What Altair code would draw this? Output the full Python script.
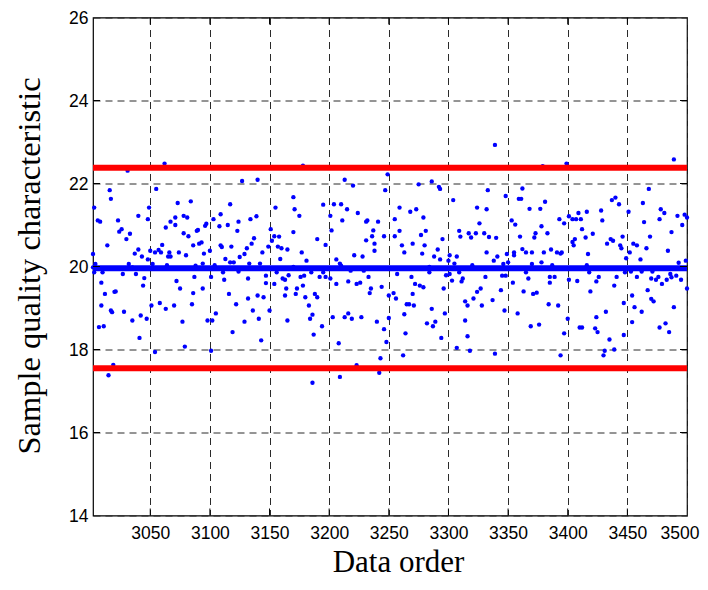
import altair as alt
import pandas as pd

# ---- data (data order, sample value) ----
x1 = [3002,3002,3003,3003,3004,3006,3007,3008,3009,3009,
      3010,3011,3012,3014,3015,3016,3017,3017,3018,3019,
      3020,3021,3023,3024,3026,3027,3028,3030,3031,3032,
      3033,3035,3035,3037,3038,3040,3040,3041,3042,3043,
      3044,3045,3047,3048,3048,3049,3050,3051,3052,3054,
      3054,3055,3057,3058,3059,3060,3062,3063,3063,3064,
      3065,3066,3067,3067,3070,3071,3071,3072,3073,3074,
      3075,3077,3078,3078,3079,3080,3081,3082]
y1 = [20.30,19.98,21.42,19.86,20.06,21.11,18.54,21.08,19.61,19.06,
      19.86,18.56,19.34,20.51,17.38,21.84,21.63,18.94,18.90,17.63,
      19.39,19.40,21.11,20.84,20.90,19.82,18.91,20.66,22.31,20.06,
      20.79,19.98,18.70,20.31,19.82,21.22,20.41,18.28,18.82,20.24,
      19.54,19.72,18.74,21.14,20.17,21.42,20.38,19.06,20.06,17.94,
      20.34,21.87,20.40,19.12,20.34,20.52,22.48,18.98,20.94,20.03,
      20.24,20.34,21.08,20.24,19.06,21.18,21.00,19.65,21.53,20.34,
      19.47,18.67,21.22,20.80,18.07,20.27,21.18,20.73]

x2 = [3084,3085,3086,3086,3087,3088,3089,3090,3091,3093,
      3094,3094,3095,3096,3097,3098,3100,3101,3101,3102,
      3103,3104,3105,3108,3109,3109,3110,3111,3112,3113,
      3115,3116,3117,3117,3118,3119,3120,3122,3123,3124,
      3124,3125,3127,3129,3129,3131,3132,3132,3133,3134,
      3135,3136,3137,3139,3140,3140,3141,3142,3143,3144,
      3145,3147,3147,3149,3150,3151,3152,3154,3154,3155,
      3156,3157,3158,3159,3160,3161,3163,3163,3164,3165,
      3165,3166]
y2 = [21.57,19.09,20.51,19.36,19.75,20.02,20.86,20.88,20.55,20.58,
      20.07,19.47,20.31,20.98,21.03,18.70,20.38,19.75,17.97,18.70,
      21.14,20.03,18.87,20.97,21.26,20.51,20.47,19.86,19.68,20.18,
      21.00,19.34,20.10,21.50,20.48,18.42,20.10,19.09,20.86,21.08,
      19.88,20.23,22.06,20.30,18.67,20.44,19.71,19.23,20.07,21.14,
      20.55,18.94,20.68,21.21,22.09,19.30,18.74,20.07,18.22,20.34,
      19.26,19.78,19.60,20.48,18.94,20.90,20.62,19.58,20.73,21.42,
      19.86,20.48,20.72,20.18,20.44,19.71,19.30,19.68,19.47,18.70,
      20.41,19.79]

x3 = [3170,3170,3170,3171,3172,3173,3175,3176,3177,3178,
      3178,3179,3180,3181,3183,3184,3185,3186,3186,3187,
      3188,3190,3190,3192,3194,3195,3195,3197,3197,3201,
      3201,3202,3203,3204,3206,3206,3208,3209,3209,3210,
      3210,3211,3213,3213,3215,3216,3216,3218,3219,3220,
      3221,3223,3223,3224,3226,3227,3228,3229,3231,3231,
      3232,3233,3234,3235,3236,3237,3238,3238,3240,3241,
      3242,3243,3244,3246,3246,3247,3248,3249,3250,3250]
y3 = [21.67,20.83,19.99,21.38,19.34,19.47,21.22,19.75,20.34,22.43,
      19.54,19.78,19.26,20.14,19.06,18.74,19.86,18.84,17.20,18.36,
      19.34,19.26,20.66,19.75,18.56,21.49,19.86,19.75,20.52,21.22,
      19.71,20.87,18.78,21.50,19.58,20.17,18.15,20.07,17.34,20.02,
      21.50,21.11,18.78,22.09,21.38,19.64,18.87,19.90,18.74,21.95,
      20.27,19.58,17.62,21.29,19.61,18.78,20.24,19.90,21.08,20.63,
      21.11,19.75,19.36,19.47,20.73,20.87,20.55,20.38,18.67,21.08,
      17.44,17.79,19.51,20.73,18.49,21.84,18.18,22.22,18.76,19.30]

x4 = [3254,3255,3255,3256,3257,3259,3259,3261,3262,3263,
      3263,3264,3265,3267,3268,3269,3270,3270,3271,3272,
      3273,3275,3276,3277,3278,3279,3279,3280,3281,3282,
      3284,3284,3286,3286,3287,3288,3289,3291,3292,3293,
      3293,3294,3295,3296,3297,3298,3300,3301,3301,3303,
      3304,3305,3307,3307,3309,3309,3310,3311,3312,3314,
      3314,3316,3316,3317,3318,3319,3320,3321,3323,3324,
      3324,3326,3327,3328,3330,3331,3332,3332,3333,3334]
y4 = [19.36,21.14,20.73,19.23,19.82,20.86,21.42,20.51,17.86,20.34,
      18.85,18.39,19.09,19.09,21.32,19.75,20.55,19.34,19.06,19.58,
      21.38,21.98,19.54,20.76,20.31,19.50,21.18,20.51,20.86,18.63,
      19.86,19.99,22.05,18.98,18.56,20.24,18.67,20.41,21.92,20.17,
      21.87,18.28,20.66,19.47,18.87,19.79,20.14,20.27,19.82,19.66,
      21.60,20.07,18.04,20.24,20.86,19.86,20.72,19.64,19.71,18.70,
      19.16,19.06,18.32,20.80,17.97,20.70,20.03,19.23,20.80,21.42,
      19.39,21.04,19.47,19.06,20.80,19.75,21.38,20.34,21.84,20.71]

x5 = [3337,3338,3339,3339,3340,3341,3344,3345,3346,3347,
      3348,3348,3349,3350,3353,3354,3355,3355,3356,3358,
      3359,3360,3361,3362,3362,3363,3365,3365,3367,3368,
      3369,3370,3370,3371,3372,3373,3374,3376,3377,3378,
      3378,3379,3380,3381,3383,3384,3385,3385,3386,3387,
      3389,3391,3392,3393,3394,3394,3395,3397,3397,3399,
      3400,3401,3401,3404,3404,3405,3406,3407,3408,3409,
      3410,3411,3412,3412,3415,3416,3416,3417,3418,3419]
y5 = [19.19,20.14,22.93,17.90,20.69,20.24,19.43,19.78,20.06,18.94,
      19.78,21.70,20.30,20.10,21.11,19.61,20.34,20.27,21.01,18.87,
      21.63,20.72,21.63,21.88,20.42,19.40,20.34,19.86,19.71,21.39,
      18.56,20.34,20.06,19.34,20.70,20.80,19.37,18.60,21.39,20.97,
      20.10,22.42,20.34,21.56,20.80,19.09,19.75,19.61,20.41,20.03,
      19.75,20.34,19.06,21.14,20.31,17.86,20.34,18.39,21.04,22.48,
      18.74,19.68,21.21,21.14,20.59,20.51,20.66,21.14,19.65,21.29,
      18.53,21.14,20.90,18.53,20.70,21.32,20.03,20.30,19.86,19.40]

x6 = [3421,3423,3424,3424,3425,3426,3428,3429,3430,3431,
      3432,3433,3435,3436,3437,3438,3439,3439,3440,3441,
      3443,3444,3445,3446,3447,3447,3448,3449,3451,3452,
      3453,3454,3454,3455,3456,3458,3458,3461,3462,3462,
      3463,3464,3466,3467,3468,3469,3470,3470,3471,3472,
      3474,3476,3477,3477,3478,3479,3481,3482,3483,3484,
      3485,3486,3487,3487,3489,3489,3491,3492,3493,3495,
      3496,3498,3499,3500,3500]
y6 = [20.79,18.51,19.64,18.78,18.42,19.75,21.35,21.11,17.86,17.97,
      18.91,20.55,18.24,20.66,21.60,20.62,19.54,18.00,21.66,19.75,
      21.50,20.51,20.44,20.72,18.35,19.12,19.86,20.20,21.32,20.34,
      19.88,19.30,18.66,20.55,19.02,19.75,20.51,20.17,19.88,18.91,
      21.53,21.07,20.44,19.43,21.87,20.72,19.71,19.22,19.88,19.16,
      19.68,19.75,21.14,18.53,21.38,19.58,21.29,18.63,19.68,20.38,
      18.42,19.82,19.74,20.83,19.02,22.58,19.78,21.22,20.09,19.68,
      21.00,21.25,20.14,19.47,21.18]

limit_names = ["UCL", "CL", "LCL"]
limit_values = [22.38, 19.96, 17.55]
limit_colors = ["#ff0000", "#0000ff", "#ff0000"]

x_ticks = [3050, 3100, 3150, 3200, 3250, 3300, 3350, 3400, 3450, 3500]
y_ticks = [14, 16, 18, 20, 22, 24, 26]
x_domain = [3002, 3500]
y_domain = [14, 26]

# ---- tables ----
df = pd.DataFrame({"order": x1 + x2 + x3 + x4 + x5 + x6,
                   "value": y1 + y2 + y3 + y4 + y5 + y6})
limits = pd.DataFrame({"name": limit_names, "value": limit_values, "color": limit_colors})
xt = pd.DataFrame({"order": x_ticks[:-1]})
yt = pd.DataFrame({"value": y_ticks[1:-1]})

W, H = 594, 498
TL = 7  # inward tick length
PAD = {"left": 85, "top": 9.5, "right": 13, "bottom": 62.5}
xscale = alt.Scale(domain=x_domain, nice=False, zero=False)
yscale = alt.Scale(domain=y_domain, nice=False, zero=False)

X = alt.X("order:Q", scale=xscale, title="Data order")
Y = alt.Y("value:Q", scale=yscale, title="Sample quality characteristic")

points = alt.Chart(df).mark_circle(size=19, color="#0000ff", opacity=1).encode(
    x=alt.X("order:Q", scale=xscale, title="Data order",
            axis=alt.Axis(values=x_ticks, format="d", labelPadding=9,
                          labelFlush=True, labelFlushOffset=12,
                          titleX=W / 2 + 8, titleY=55.5,
                          titleFontSize=31,
                          titleAlign="center", titleBaseline="alphabetic")),
    y=alt.Y("value:Q", scale=yscale, title="Sample quality characteristic",
            axis=alt.Axis(values=y_ticks, format="d", labelPadding=5,
                          labelFlush=False, labelOffset=1,
                          titleX=-64, titleY=H / 2 - 1, titleAngle=270,
                          titleFontSize=32.5,
                          titleAlign="center", titleBaseline="middle")),
)

lines = alt.Chart(limits).mark_rule(strokeWidth=6).encode(
    y=Y,
    color=alt.Color("color:N", scale=None),
)

tick_b = alt.Chart(xt).mark_rule(color="black", strokeWidth=1).encode(
    x=X, y=alt.value(H), y2=alt.value(H - TL))
tick_t = alt.Chart(xt).mark_rule(color="black", strokeWidth=1).encode(
    x=X, y=alt.value(0), y2=alt.value(TL))
tick_l = alt.Chart(yt).mark_rule(color="black", strokeWidth=1).encode(
    y=Y, x=alt.value(0), x2=alt.value(TL))
tick_r = alt.Chart(yt).mark_rule(color="black", strokeWidth=1).encode(
    y=Y, x=alt.value(W), x2=alt.value(W - TL))

chart = alt.layer(points, lines, tick_b, tick_t, tick_l, tick_r).properties(
    width=W, height=H,
    autosize=alt.AutoSizeParams(type="none"),
    padding=PAD,
    background="white",
).configure_view(
    stroke="black", strokeWidth=1.2
).configure_axis(
    grid=True, gridDash=[7, 5], gridColor="#2a2a2a", gridWidth=1, gridOpacity=1,
    domain=False, ticks=False,
    labelFont="Liberation Sans", labelFontSize=17.5, labelColor="black",
    titleFont="Liberation Serif", titleFontSize=32,
    titleFontWeight="normal", titleColor="black",
)

chart.save("out.html", embed_options={"renderer": "svg", "actions": False})
